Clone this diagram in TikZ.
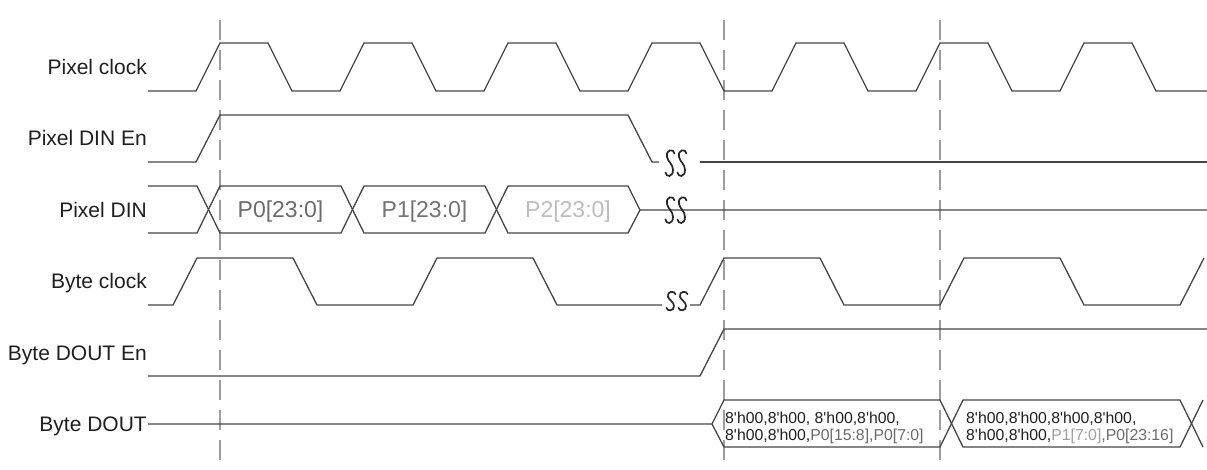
\documentclass[tikz,border=0pt]{standalone}
\usepackage{fontspec}
\newfontfamily\arial{Liberation Sans}
\definecolor{wavec}{gray}{0.27}
\definecolor{guidec}{gray}{0.62}
\definecolor{pzero}{gray}{0.42}
\definecolor{pone}{gray}{0.45}
\definecolor{ptwo}{gray}{0.74}
\definecolor{plight}{gray}{0.62}
\tikzset{
  wave/.style={line width=1.3pt, draw=wavec, line join=miter},
  guide/.style={line width=1.4pt, draw=guidec, dash pattern=on 20pt off 10pt},
  lbl/.style={anchor=base east, inner sep=0pt, font=\arial\fontsize{21}{24}\selectfont, text=black!88},
  busl/.style={anchor=base, inner sep=0pt, font=\arial\fontsize{23}{26}\selectfont},
  dout/.style={anchor=base west, inner sep=0pt, font=\arial\fontsize{15.8}{18}\selectfont, text=black!88},
  squig/.pic={
    \draw[line width=1.7pt, draw=black!85, line cap=round]
      (4.5,-9.5) .. controls (4,-14.5) and (-4.5,-14) .. (-3,-6)
      .. controls (-2,-1) and (3,1) .. (3,7)
      .. controls (3,14.5) and (-4,14.5) .. (-4.5,9.5);
  }
}
\begin{document}
\begin{tikzpicture}[x=1pt,y=-1pt]
\useasboundingbox (0,0) rectangle (1207,470);

% guide lines
\draw[guide] (220,20) -- (220,470);
\draw[guide] (724,20) -- (724,470);
\draw[guide] (940,20) -- (940,470);

% labels
\node[lbl] (lpclk) at (147,74.5) {Pixel clock};
\node[lbl] (lpen)  at (147,146) {Pixel DIN En};
\node[lbl] (lpdin) at (147,217.5) {Pixel DIN};
\node[lbl] (lbclk) at (147,289) {Byte clock};
\node[lbl] (lben)  at (147,360) {Byte DOUT En};
\node[lbl] (lbout) at (147,431) {Byte DOUT};

% Pixel clock
\draw[wave] (148,91) \foreach \i in {0,...,6} {
  -- ({196+144*\i},91) -- ({220+144*\i},43) -- ({268+144*\i},43) -- ({292+144*\i},91) }
  -- (1207,91);

% Pixel DIN En
\draw[wave] (148,162) -- (196,162) -- (220,115) -- (628,115) -- (652,162) -- (659,162);
\draw[wave] (700,162) -- (1207,162);
\pic at (670,163) {squig};
\pic at (682,163) {squig};

% Pixel DIN
\draw[wave] (148,186) -- (197,186) -- (220,233) -- (341,233) -- (364,186) -- (485,186) -- (508,233) -- (628,233) -- (640,210) -- (1207,210);
\draw[wave] (148,233) -- (197,233) -- (220,186) -- (341,186) -- (364,233) -- (485,233) -- (508,186) -- (628,186) -- (640,210);
\pic at (670,210) {squig};
\pic at (682,210) {squig};
\node[busl, text=pzero] (p0) at (280.5,218) {P0[23:0]};
\node[busl, text=pone]  (p1) at (424.5,218) {P1[23:0]};
\node[busl, text=ptwo]  (p2) at (568,218) {P2[23:0]};

% Byte clock
\draw[wave] (148,305) -- (173,305) -- (197,258) -- (293,258) -- (317,305) -- (413,305) -- (437,258) -- (533,258) -- (557,305) -- (662,305);
\draw[wave] (690,305) -- (700,305) -- (724,258) -- (820,258) -- (844,305) -- (940,305) -- (964,258) -- (1060,258) -- (1084,305) -- (1180,305) -- (1204,258);
\pic[yscale=0.72] at (671,301) {squig};
\pic[yscale=0.72] at (683,301) {squig};

% Byte DOUT En
\draw[wave] (148,376) -- (700,376) -- (724,329) -- (1207,329);

% Byte DOUT
\draw[wave] (148,424) -- (712,424) -- (724,400) -- (940,400) -- (963,447) -- (1180,447) -- (1203,400);
\draw[wave] (712,424) -- (724,447) -- (940,447) -- (963,400) -- (1180,400) -- (1203,447);
\node[dout] (d1a) at (725,423) {8'h00,8'h00, 8'h00,8'h00,};
\node[dout] (d1b) at (725,440) {8'h00,8'h00,\textcolor{pzero}{P0[15:8],P0[7:0]}};
\node[dout] (d2a) at (966,423) {8'h00,8'h00,8'h00,8'h00,};
\node[dout] (d2b) at (966,440) {8'h00,8'h00,\textcolor{plight}{P1[7:0]}\textcolor{pzero}{,P0[23:16]}};
\end{tikzpicture}
\end{document}
